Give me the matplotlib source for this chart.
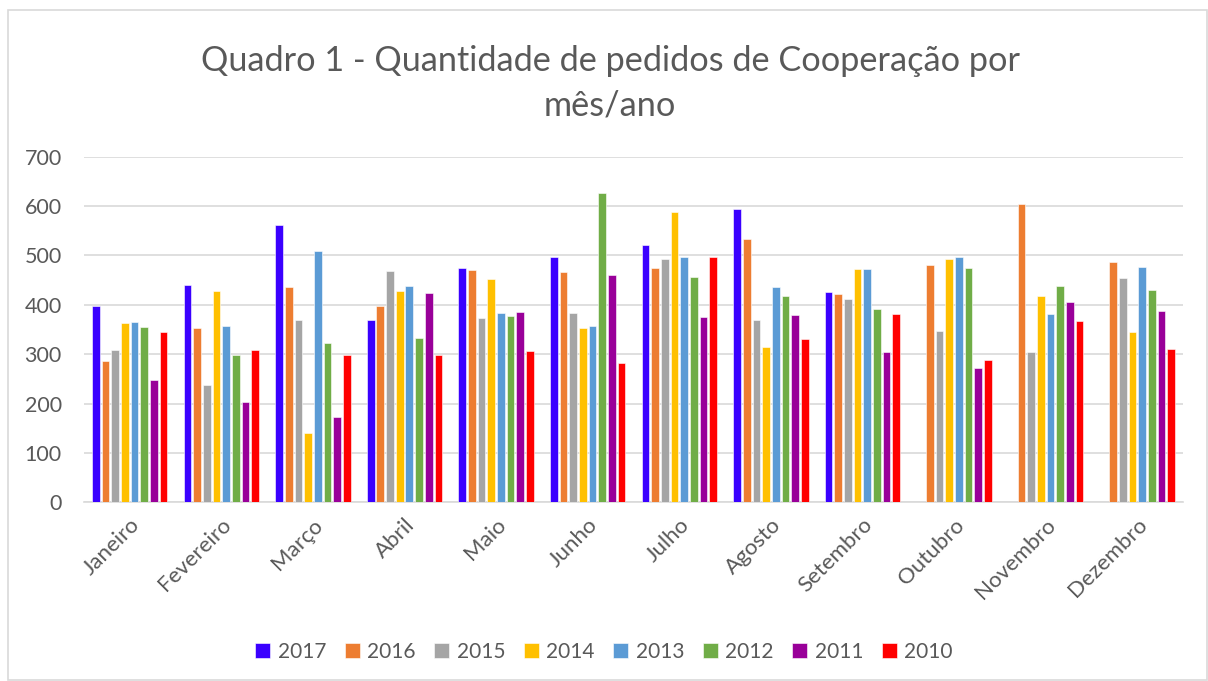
import numpy as np
import matplotlib.pyplot as plt
from matplotlib.patches import Rectangle

# Months (categories)
meses = ["Janeiro", "Fevereiro", "Março", "Abril", "Maio", "Junho",
         "Julho", "Agosto", "Setembro", "Outubro", "Novembro", "Dezembro"]

# Values, one list per year
v2017 = [398, 440, 561, 369, 475, 497, 521, 594, 425, 0, 0, 0]
v2016 = [287, 353, 436, 398, 470, 466, 474, 533, 421, 481, 604, 487]
v2015 = [309, 238, 369, 468, 373, 383, 492, 369, 412, 347, 305, 454]
v2014 = [363, 427, 140, 427, 452, 354, 589, 315, 473, 492, 418, 344]
v2013 = [365, 357, 510, 438, 383, 357, 497, 436, 472, 497, 381, 477]
v2012 = [355, 299, 323, 333, 377, 626, 456, 418, 392, 475, 438, 429]
v2011 = [248, 204, 173, 424, 385, 460, 375, 379, 305, 272, 406, 387]
v2010 = [344, 309, 299, 298, 306, 282, 497, 330, 381, 288, 367, 311]

anos = ["2017", "2016", "2015", "2014", "2013", "2012", "2011", "2010"]
series = [v2017, v2016, v2015, v2014, v2013, v2012, v2011, v2010]
cores = ["#3A00FF", "#ED7D31", "#A5A5A5", "#FFC000",
         "#5B9BD5", "#70AD47", "#990099", "#FF0000"]

plt.rcParams['font.family'] = ['Lato', 'DejaVu Sans']
texto = "#595959"

fig = plt.figure(figsize=(12.08, 6.81), dpi=100)
ax = fig.add_axes([0.0695, 0.2624, 0.9098, 0.5075])

# outer chart border
fig.patches.append(Rectangle((8 / 1208, 1 / 681), 1199 / 1208, 670 / 681,
                             transform=fig.transFigure, fill=False,
                             edgecolor="#D9D9D9", linewidth=1.2))

x = np.arange(len(meses))
passo = 0.1056
largura = 0.084
for i, (ano, vals, cor) in enumerate(zip(anos, series, cores)):
    pos = x + (i - 3.5) * passo
    ax.bar(pos, vals, width=largura, color=cor, label=ano,
           edgecolor="white", linewidth=0.4, zorder=3)

ax.set_xlim(-0.5, len(meses) - 0.5)
ax.set_ylim(0, 700)
ax.set_yticks(range(0, 701, 100))
ax.yaxis.grid(True, color="#D9D9D9", linewidth=1.2, zorder=0)
ax.set_axisbelow(True)

for s in ["top", "right", "left"]:
    ax.spines[s].set_visible(False)
ax.spines["bottom"].set_color("#D9D9D9")
ax.spines["bottom"].set_linewidth(1.2)

ax.tick_params(axis="y", length=0, pad=16, labelsize=15.5, labelcolor=texto)
ax.tick_params(axis="x", length=0, pad=9, labelsize=16, labelcolor=texto)
ax.set_xticks(x)
ax.set_xticklabels(meses, rotation=45, ha="right", rotation_mode="anchor")

fig.text(0.505, 0.91, "Quadro 1 - Quantidade de pedidos de Cooperação por",
         ha="center", va="center", fontsize=24.7, color=texto)
fig.text(0.505, 0.845, "mês/ano", ha="center", va="center",
         fontsize=24.7, color=texto)

leg = fig.legend(loc="center", bbox_to_anchor=(0.5, 0.043), ncol=8,
                 frameon=False, fontsize=15, handlelength=0.72,
                 handleheight=0.72, handletextpad=0.35, columnspacing=0.9)
for t in leg.get_texts():
    t.set_color(texto)

fig.savefig("out.png", dpi=100)
